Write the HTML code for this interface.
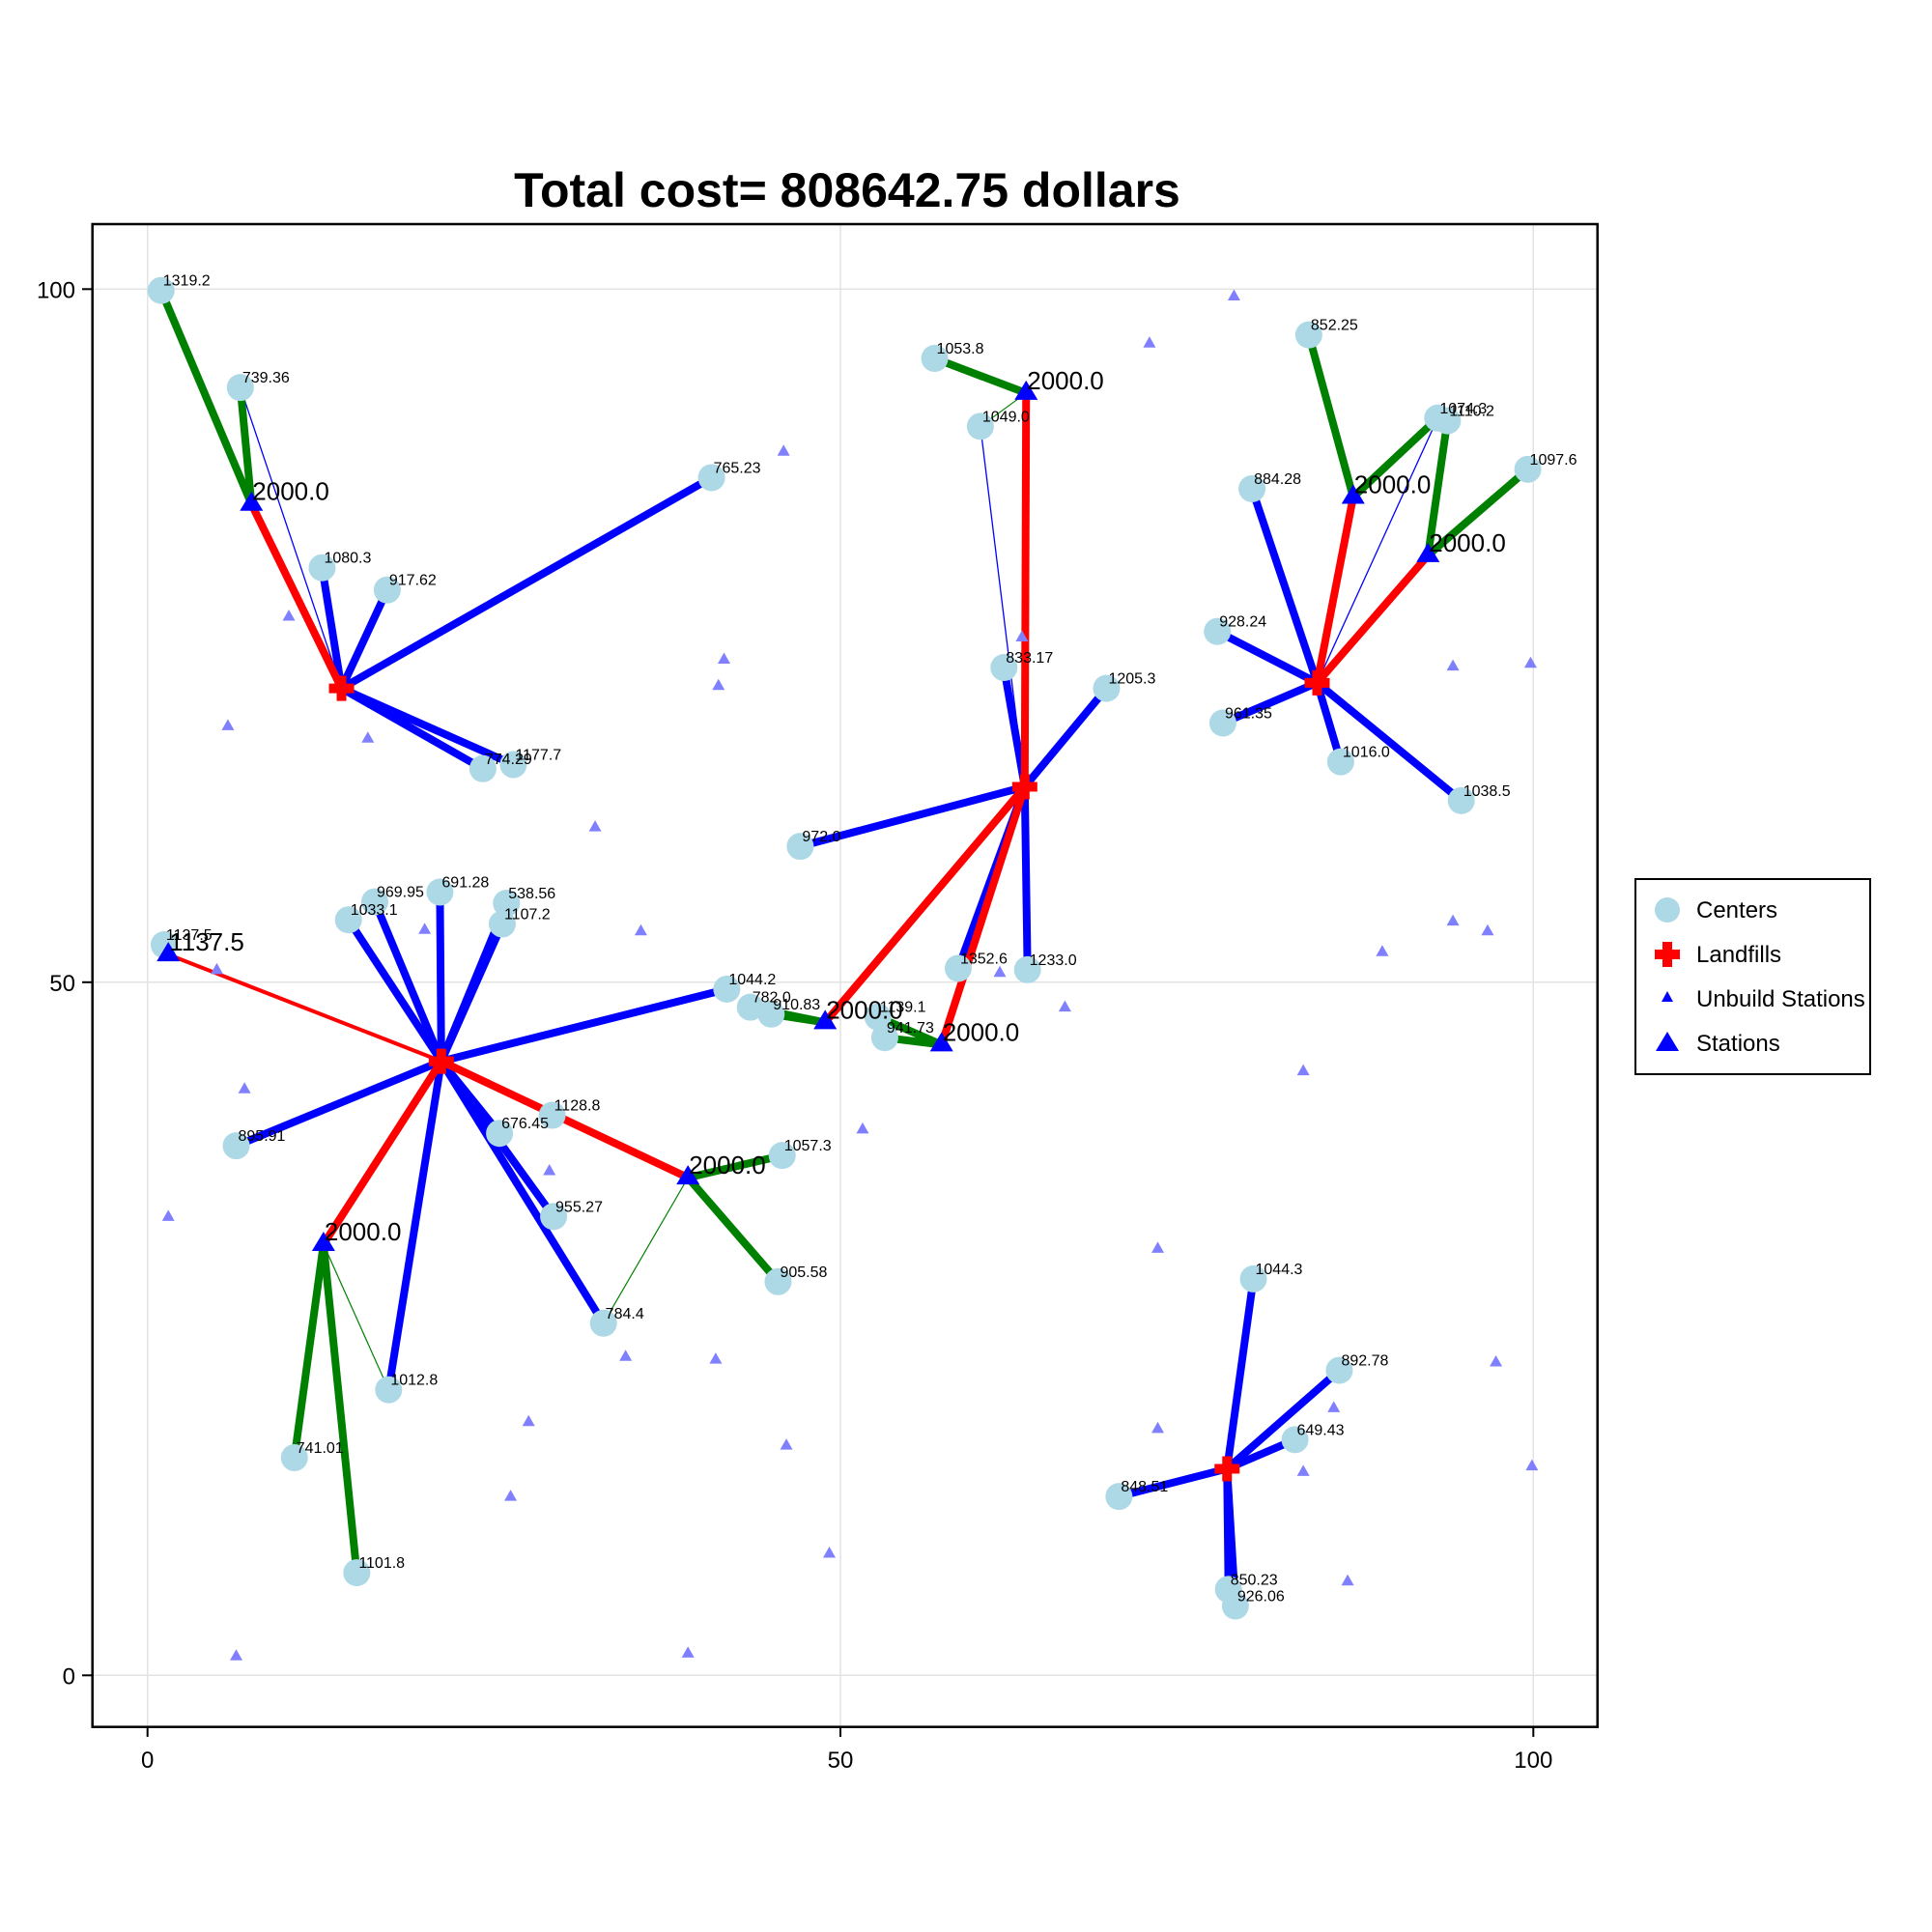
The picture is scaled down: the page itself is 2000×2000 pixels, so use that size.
<!DOCTYPE html>
<html><head><meta charset="utf-8">
<style>
html,body{margin:0;padding:0;background:#fff;}
svg{display:block;font-family:"Liberation Sans",Arial,sans-serif;}
</style></head>
<body>
<svg id="chart" width="2000" height="2000" viewBox="0 0 2000 2000" xmlns="http://www.w3.org/2000/svg">
<rect x="0" y="0" width="2000" height="2000" fill="#fff"/>
<text x="877" y="214" font-size="50" font-weight="bold" text-anchor="middle">Total cost= 808642.75 dollars</text>
<g id="grid"></g>
<g id="edges"></g>
<g id="marks"></g>
<rect x="95.7" y="232" width="1558" height="1555.7" fill="none" stroke="#000" stroke-width="2.5"/>
<g id="axes"></g>
<g>
<rect x="1693" y="910" width="243" height="202" fill="#fff" stroke="#000" stroke-width="2"/>
<circle cx="1726" cy="942" r="13" fill="#add8e6"/>
<text x="1756" y="950" font-size="24">Centers</text>
<path d="M1721,976h10v8h8v10h-8v8h-10v-8h-8v-10h8z" fill="#f00" transform="translate(0,-1)"/>
<text x="1756" y="996" font-size="24">Landfills</text>
<path d="M1726,1026l6,11h-12z" fill="#00f"/>
<text x="1756" y="1042" font-size="24">Unbuild Stations</text>
<path d="M1726,1068l12,20h-24z" fill="#00f"/>
<text x="1756" y="1088" font-size="24">Stations</text>
</g>
</svg>
<script>
const xTicks=[0,50,100];
const yTicks=[0,50,100];
const centerLabels=["1319.2","739.36","765.23","1080.3","917.62","774.29","1177.7","1053.8","1049.0","833.17","1205.3","972.0","1352.6","1233.0","852.25","1074.3","1110.2","1097.6","884.28","928.24","961.35","1016.0","1038.5","1137.5","1033.1","969.95","691.28","538.56","1107.2","1044.2","782.0","910.83","1139.1","941.73","895.91","1128.8","676.45","1057.3","955.27","905.58","784.4","1012.8","741.01","1101.8","1044.3","892.78","649.43","848.51","850.23","926.06"];
const centerX=[0.98,6.7,40.7,12.6,17.3,24.2,26.4,56.8,60.1,61.8,69.2,47.1,58.5,63.5,83.8,93.1,93.8,99.6,79.7,77.2,77.6,86.1,94.8,1.2,14.5,16.4,21.1,25.9,25.6,41.8,43.5,45.0,52.7,53.2,6.4,29.2,25.4,45.8,29.3,45.5,32.9,17.4,10.6,15.1,79.8,86.0,82.8,70.1,78.0,78.5];
const centerY=[99.9,92.9,86.4,79.9,78.3,65.4,65.7,95.0,90.1,72.7,71.2,59.8,51.0,50.9,96.7,90.7,90.5,87.0,85.6,75.3,68.7,65.9,63.1,52.7,54.5,55.8,56.5,55.7,54.2,49.5,48.2,47.7,47.5,46.0,38.2,40.4,39.1,37.5,33.1,28.4,25.4,20.6,15.7,7.4,28.6,22.0,17.0,12.9,6.2,5.0];
const landfillNames=["L1","L2","L3","L4","L5"];
const landfillX=[14.0,63.3,84.4,21.2,77.9];
const landfillY=[71.2,64.1,71.6,44.3,14.9];
const stationNames=["S1","S2","S3","S4","S5","S6","S7","S8","S9"];
const stationX=[7.5,63.4,87.0,92.4,1.5,48.9,57.3,39.0,12.7];
const stationY=[84.5,92.5,85.0,80.8,52.0,47.1,45.5,35.9,31.1];
const stationCap=["2000.0","2000.0","2000.0","2000.0","1137.5","2000.0","2000.0","2000.0","2000.0"];
const unbuiltX=[78.4,72.3,45.9,10.2,41.6,41.2,63.1,5.8,15.9,32.3,94.2,99.8,94.2,96.7,89.1,20.0,35.6,5.0,61.5,66.2,83.4,7.0,51.6,29.0,1.5,72.9,34.5,41.0,97.3,72.9,27.5,46.1,85.6,83.4,99.9,26.2,49.2,86.6,6.4,39.0];
const unbuiltY=[99.5,96.1,88.3,76.4,73.3,71.4,74.9,68.5,67.6,61.2,72.8,73.0,54.4,53.7,52.2,53.8,53.7,50.9,50.7,48.2,43.6,42.3,39.4,36.4,33.1,30.8,23.0,22.8,22.6,17.8,18.3,16.6,19.3,14.7,15.1,12.9,8.8,6.8,1.4,1.6];
const edgeFrom=["1080.3","917.62","765.23","774.29","1177.7","739.36","1319.2","739.36","S1",
"833.17","1205.3","972.0","1352.6","1233.0","1049.0","1053.8","1049.0","S2","S6","S7","782.0","910.83","1139.1","941.73",
"884.28","928.24","961.35","1016.0","1038.5","1074.3","852.25","1074.3","1110.2","1097.6","S3","S4",
"1033.1","969.95","691.28","538.56","1107.2","1044.2","895.91","676.45","955.27","784.4","1012.8","1128.8","S5","S9","S8","1057.3","905.58","784.4","741.01","1101.8","1012.8",
"1044.3","892.78","649.43","848.51","850.23","926.06"];
const edgeTo=["L1","L1","L1","L1","L1","L1","S1","S1","L1",
"L2","L2","L2","L2","L2","L2","S2","S2","L2","L2","L2","S6","S6","S7","S7",
"L3","L3","L3","L3","L3","L3","S3","S3","S4","S4","L3","L3",
"L4","L4","L4","L4","L4","L4","L4","L4","L4","L4","L4","L4","L4","L4","L4","S8","S8","S8","S9","S9","S9",
"L5","L5","L5","L5","L5","L5"];
const edgeKind=["b","b","b","b","b","bt","g","g","r",
"b","b","b","b","b","bt","g","gt","r","r","r","g","g","g","g",
"b","b","b","b","b","bt","g","g","g","g","r","r",
"b","b","b","b","b","b","b","b","b","b","b","bm","rm","r","r","g","g","gt","g","g","gt",
"b","b","b","b","b","b"];

const NS="http://www.w3.org/2000/svg";
function X(v){return 152.7+v*14.346;}
function Y(v){return 1734.3-v*14.35;}
function mk(tag,attrs,parent){const e=document.createElementNS(NS,tag);for(const k in attrs)e.setAttribute(k,attrs[k]);parent.appendChild(e);return e;}
const grid=document.getElementById('grid'),axes=document.getElementById('axes'),edges=document.getElementById('edges'),marks=document.getElementById('marks');
xTicks.forEach(t=>{
  const g=mk('line',{x1:X(t),x2:X(t),y1:232,y2:1787.7,stroke:'#e3e3e3','stroke-width':1.5},grid);
  
  
  const tk=mk('line',{x1:X(t),x2:X(t),y1:1787.7,y2:1798,stroke:'#000','stroke-width':2},axes);
  
  
  const tl=mk('text',{x:X(t),y:1830,'font-size':24,'text-anchor':'middle'},axes);tl.textContent=t;
  
  
});
yTicks.forEach(t=>{
  const g=mk('line',{x1:95.7,x2:1653.7,y1:Y(t),y2:Y(t),stroke:'#e3e3e3','stroke-width':1.5},grid);
  
  
  const tk=mk('line',{x1:85,x2:95.7,y1:Y(t),y2:Y(t),stroke:'#000','stroke-width':2},axes);
  
  
  const tl=mk('text',{x:78,y:Y(t)+9,'font-size':24,'text-anchor':'end'},axes);tl.textContent=t;
  
  
});
function pos(n){
  let i=centerLabels.indexOf(n);if(i>=0)return[X(centerX[i]),Y(centerY[i])];
  i=landfillNames.indexOf(n);if(i>=0)return[X(landfillX[i]),Y(landfillY[i])];
  i=stationNames.indexOf(n);return[X(stationX[i]),Y(stationY[i])];
}
const styles={b:['#0000ff',8],bt:['#0000ff',1.3],bm:['#0000ff',4],r:['#ff0000',8],rm:['#ff0000',4],g:['#008000',8],gt:['#008000',1.2]};
edgeFrom.forEach((f,i)=>{
  const a=pos(f),b=pos(edgeTo[i]),s=styles[edgeKind[i]];
  const l=mk('line',{x1:a[0],y1:a[1],x2:b[0],y2:b[1],stroke:s[0],'stroke-width':s[1]},edges);
  
  
});
unbuiltX.forEach((v,i)=>{
  const x=X(v),y=Y(unbuiltY[i]);
  const p=mk('path',{d:`M${x},${y-7}l6.5,11.5h-13z`,fill:'#8080ff'},marks);
  
  
});
centerX.forEach((v,i)=>{
  const x=X(v),y=Y(centerY[i]);
  const c=mk('circle',{cx:x,cy:y,r:14,fill:'#add8e6'},marks);
  
  
});
centerX.forEach((v,i)=>{
  const x=X(v),y=Y(centerY[i]);
  const t=mk('text',{x:x+2,y:y-5,'font-size':16},marks);t.textContent=centerLabels[i];
  
  
});
landfillX.forEach((v,i)=>{
  const x=X(v),y=Y(landfillY[i]);
  const p=mk('path',{d:`M${x-5},${y-13}h10v8h8v10h-8v8h-10v-8h-8v-10h8z`,fill:'#ff0000'},marks);
  
  
});
stationX.forEach((v,i)=>{
  const x=X(v),y=Y(stationY[i]);
  const p=mk('path',{d:`M${x},${y-13}l12,20h-24z`,fill:'#0000ff'},marks);
  
  
  const t=mk('text',{x:x+1,y:y-4,'font-size':26},marks);t.textContent=stationCap[i];
  
  
});
</script>
</body></html>
